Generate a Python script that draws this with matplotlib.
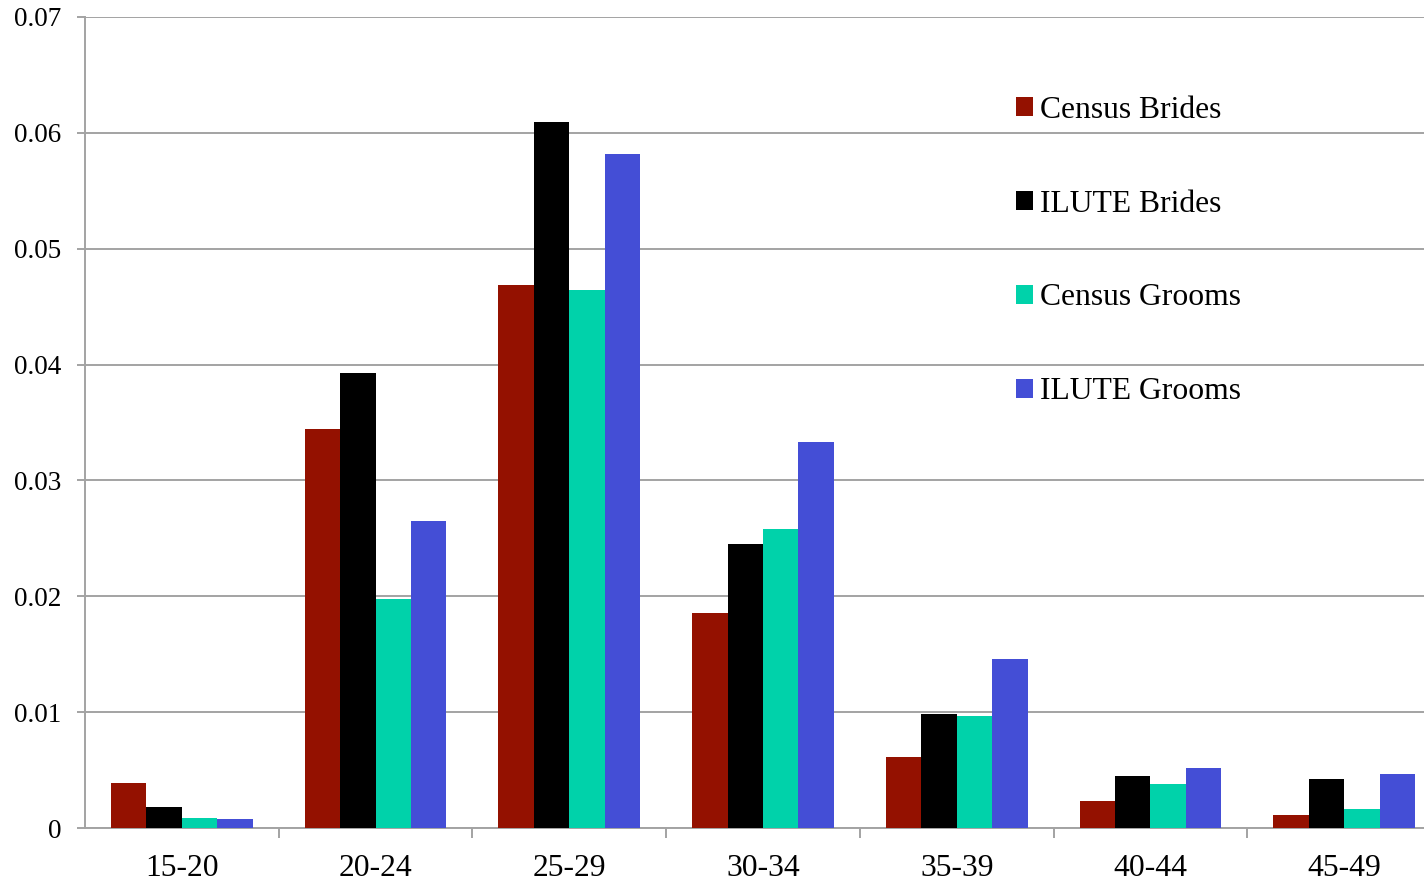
import matplotlib.pyplot as plt
import numpy as np

plt.rcParams['font.family'] = ['Liberation Serif', 'DejaVu Serif']

# age groups and share of marriages per group
yas_gruplari = ['15-20', '20-24', '25-29', '30-34', '35-39', '40-44', '45-49']
census_brides = [0.0039, 0.0344, 0.0469, 0.0186, 0.0061, 0.0023, 0.0011]
ilute_brides = [0.0018, 0.0393, 0.0609, 0.0245, 0.0098, 0.0045, 0.0042]
census_grooms = [0.0009, 0.0198, 0.0464, 0.0258, 0.0097, 0.0038, 0.0016]
ilute_grooms = [0.0008, 0.0265, 0.0582, 0.0333, 0.0146, 0.0052, 0.0047]

seriler = [
    ('Census Brides', census_brides, '#941100'),
    ('ILUTE Brides', ilute_brides, '#000000'),
    ('Census Grooms', census_grooms, '#00d2aa'),
    ('ILUTE Grooms', ilute_grooms, '#444ed6'),
]

fig = plt.figure(figsize=(14.24, 8.81), dpi=100)
# axes runs a little past the right edge of the figure on purpose
ax = fig.add_axes([85 / 1424, 1 - 828 / 881, 1356 / 1424, 811 / 881])

x = np.arange(len(yas_gruplari))
w = 0.183
for i, (ad, degerler, renk) in enumerate(seriler):
    ax.bar(x + (i - 1.5) * w, degerler, width=w, color=renk, label=ad, zorder=3)

ax.set_xlim(-0.5, len(yas_gruplari) - 0.5)
ax.set_ylim(0, 0.07)
ax.set_yticks(np.arange(0, 0.071, 0.01))
ax.set_yticklabels(['0', '0.01', '0.02', '0.03', '0.04', '0.05', '0.06', '0.07'])
ax.set_xticks(x)
ax.set_xticklabels(yas_gruplari)
ax.set_xticks(np.arange(0.5, len(yas_gruplari) - 1, 1), minor=True)

gri = '#a3a3a3'
ax.grid(axis='y', color=gri, linewidth=1.4, zorder=0)
ax.tick_params(axis='y', length=6, width=1.4, color=gri, pad=11, labelsize=19.5)
ax.tick_params(axis='x', which='major', length=0, pad=19, labelsize=22.8)
ax.tick_params(axis='x', which='minor', length=7, width=1.4, color=gri)

for s in ['top', 'right']:
    ax.spines[s].set_visible(False)
for s in ['left', 'bottom']:
    ax.spines[s].set_color(gri)
    ax.spines[s].set_linewidth(1.4)

ax.legend(loc='center left', bbox_to_anchor=(1016 / 1424, 1 - 251 / 881),
          bbox_transform=fig.transFigure, frameon=False, fontsize=22.8,
          borderpad=0, borderaxespad=0, labelspacing=2.05,
          handlelength=0.55, handleheight=0.55, handletextpad=0.22)

fig.savefig('out.png', dpi=100)
